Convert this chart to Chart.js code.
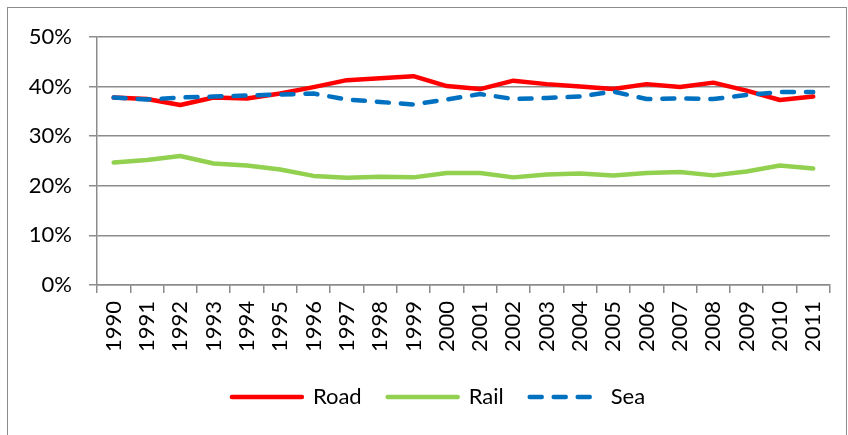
<!doctype html>
<html lang="en">

<head>
  <meta charset="UTF-8">
  <title>Road, Rail, Sea</title>
  <style>
    html,
    body {
      margin: 0;
      padding: 0;
      background-color: #fff;
      font-family: Lato, Arial, sans-serif;
    }

    #frame {
      position: absolute;
      left: 7px;
      top: 7px;
      width: 838px;
      height: 440px;
      border: 1.5px solid #8c8c8c;
    }

    #wrap {
      position: absolute;
      left: 0;
      top: 0;
      width: 848px;
      height: 435px;
    }
  </style>
</head>

<body>
  <div id="frame"></div>
  <div id="wrap">
    <canvas id="datavis" width="848" height="435"></canvas>
  </div>

  <script src="https://cdn.jsdelivr.net/npm/chart.js@4/dist/chart.umd.min.js"></script>

  <script>
    // values, in percent
    const years = ['1990', '1991', '1992', '1993', '1994', '1995', '1996', '1997', '1998', '1999', '2000',
      '2001', '2002', '2003', '2004', '2005', '2006', '2007', '2008', '2009', '2010', '2011'];
    const road = [37.8, 37.5, 36.3, 37.8, 37.6, 38.6, 39.9, 41.3, 41.7, 42.1, 40.1,
      39.5, 41.2, 40.5, 40.0, 39.5, 40.5, 39.9, 40.8, 39.2, 37.3, 38.0];
    const rail = [24.7, 25.2, 26.0, 24.5, 24.1, 23.3, 22.0, 21.6, 21.8, 21.7, 22.6,
      22.6, 21.7, 22.3, 22.5, 22.1, 22.6, 22.8, 22.1, 22.9, 24.1, 23.5];
    const sea = [37.8, 37.4, 37.8, 38.0, 38.2, 38.4, 38.6, 37.4, 36.9, 36.4, 37.4,
      38.5, 37.5, 37.7, 38.0, 39.0, 37.5, 37.6, 37.5, 38.3, 38.9, 38.9];
    const yTicks = [0, 10, 20, 30, 40, 50];

    const font = { family: 'Lato, Arial, sans-serif', size: 22 };
    const gridColor = '#8c8c8c';

    // order: higher is drawn first, so Sea ends up on top like the original
    function line(label, data, color, order, dash) {
      return {
        label: label,
        data: data,
        order: order,
        borderColor: color,
        backgroundColor: color,
        borderWidth: 4.5,
        borderDash: dash || [],
        borderCapStyle: 'round',
        borderJoinStyle: 'round',
        pointRadius: 0,
        pointStyle: 'line',
        tension: 0,
        fill: false
      };
    }

    // the legend sits a little right of the canvas centre
    const legendShift = {
      id: 'legendShift',
      afterLayout: function (chart) {
        chart.legend.left += 19;
        chart.legend.right += 19;
      }
    };

    new Chart('datavis', {
      type: 'line',
      data: {
        labels: years,
        datasets: [
          line('Road', road, '#ff0000', 3),
          line('Rail', rail, '#92d050', 2),
          line('Sea', sea, '#0070c0', 1, [12, 12])
        ]
      },
      plugins: [legendShift],
      options: {
        responsive: false,
        animation: false,
        layout: {
          padding: { left: 8, right: 17, top: 37, bottom: 17 }
        },
        plugins: {
          tooltip: { enabled: false },
          legend: {
            position: 'bottom',
            labels: {
              color: '#000',
              font: font,
              usePointStyle: true,
              pointStyleWidth: 70,
              padding: 26,
              sort: (a, b) => a.datasetIndex - b.datasetIndex,
              // point-style items lose the dataset dash, so put it back
              generateLabels: function (chart) {
                const items = Chart.defaults.plugins.legend.labels.generateLabels(chart);
                items.forEach(function (item) {
                  const ds = chart.data.datasets[item.datasetIndex];
                  item.lineDash = ds.borderDash;
                  item.lineCap = 'round';
                  item.lineWidth = ds.borderWidth;
                  item.strokeStyle = ds.borderColor;
                });
                return items;
              }
            }
          }
        },
        scales: {
          x: {
            offset: true,
            afterFit: function (scale) { scale.height = 75; },
            grid: {
              drawOnChartArea: false,
              drawTicks: true,
              tickLength: 8,
              offset: true,
              color: gridColor,
              lineWidth: 1.5
            },
            border: { color: gridColor, width: 1.5 },
            ticks: {
              color: '#000',
              font: font,
              minRotation: 90,
              maxRotation: 90,
              padding: 8,
              autoSkip: false
            }
          },
          y: {
            min: yTicks[0],
            max: yTicks[yTicks.length - 1],
            afterFit: function (scale) { scale.width = 89; },
            afterBuildTicks: function (scale) {
              scale.ticks = yTicks.map(v => ({ value: v }));
            },
            grid: {
              color: gridColor,
              lineWidth: 1.5,
              tickLength: 8
            },
            border: { color: gridColor, width: 1.5 },
            ticks: {
              color: '#000',
              font: font,
              padding: 17,
              callback: v => v + '%'
            }
          }
        }
      }
    });
  </script>
</body>

</html>
